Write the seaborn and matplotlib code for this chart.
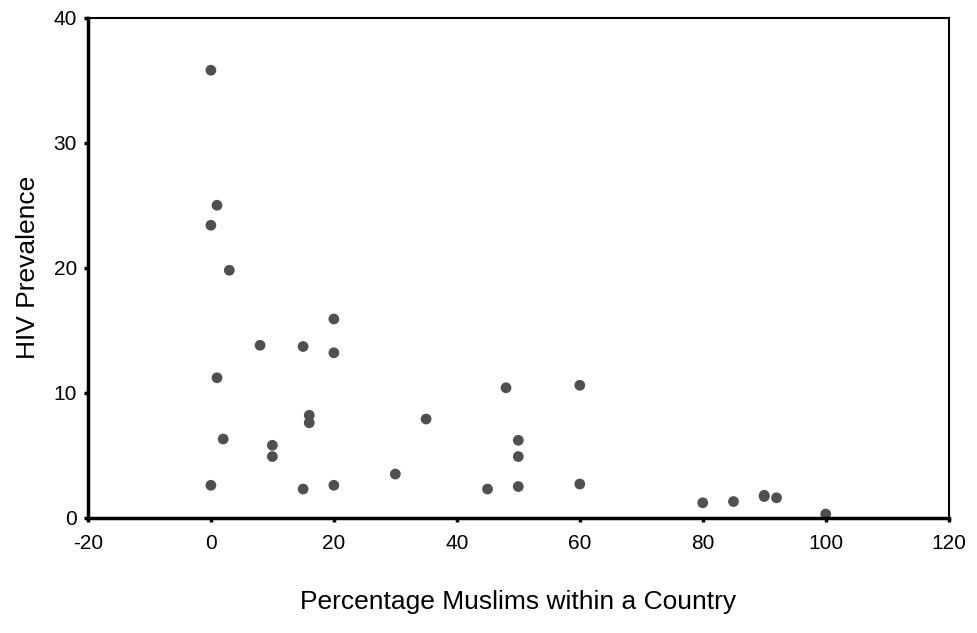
import numpy as np
import pandas as pd
import matplotlib
matplotlib.use("Agg")
import matplotlib.pyplot as plt
import seaborn as sns

# values
pct_muslim = [0, 1, 0, 3, 1, 2, 0, 8, 10, 10, 15, 16, 16, 15,
              20, 20, 20, 30, 35, 45, 48, 50, 50, 50, 60, 60,
              80, 85, 90, 90, 92, 100]
hiv_prev = [35.8, 25.0, 23.4, 19.8, 11.2, 6.3, 2.6, 13.8, 5.8, 4.9, 13.7, 8.2, 7.6, 2.3,
            15.9, 13.2, 2.6, 3.5, 7.9, 2.3, 10.4, 6.2, 4.9, 2.5, 10.6, 2.7,
            1.2, 1.3, 1.8, 1.7, 1.6, 0.3]
x_ticks = [-20, 0, 20, 40, 60, 80, 100, 120]
y_ticks = [0, 10, 20, 30, 40]

df = pd.DataFrame({"muslim": pct_muslim, "hiv": hiv_prev})

sns.set_style("white")
plt.rcParams['font.family'] = ['Liberation Sans', 'DejaVu Sans']
plt.rcParams['text.color'] = 'black'
plt.rcParams['axes.labelcolor'] = 'black'
plt.rcParams['xtick.color'] = 'black'
plt.rcParams['ytick.color'] = 'black'

fig = plt.figure(figsize=(9.77, 6.33), dpi=100)
ax = fig.add_axes([0.090, 0.182, 0.881, 0.790])

sns.scatterplot(data=df, x="muslim", y="hiv", ax=ax, color="#505050",
                s=60, edgecolor="none", legend=False)

ax.set_xlim(-20, 120)
ax.set_ylim(0, 40)
ax.set_xticks(x_ticks)
ax.set_yticks(y_ticks)
ax.set_xticklabels([str(t) for t in x_ticks], fontsize=15)
ax.set_yticklabels([str(t) for t in y_ticks], fontsize=15)
ax.tick_params(axis="both", which="major", bottom=True, left=True,
               direction="out", length=3, width=2.5, colors="black", pad=5)
ax.tick_params(axis="x", pad=9)

for side in ["top", "right"]:
    ax.spines[side].set_color("black")
    ax.spines[side].set_linewidth(1.5)
for side in ["left", "bottom"]:
    ax.spines[side].set_color("black")
    ax.spines[side].set_linewidth(2.5)

ax.set_xlabel("Percentage Muslims within a Country", fontsize=19, labelpad=26)
ax.set_ylabel("HIV Prevalence", fontsize=19, labelpad=10)

fig.savefig("out.png", dpi=100)
